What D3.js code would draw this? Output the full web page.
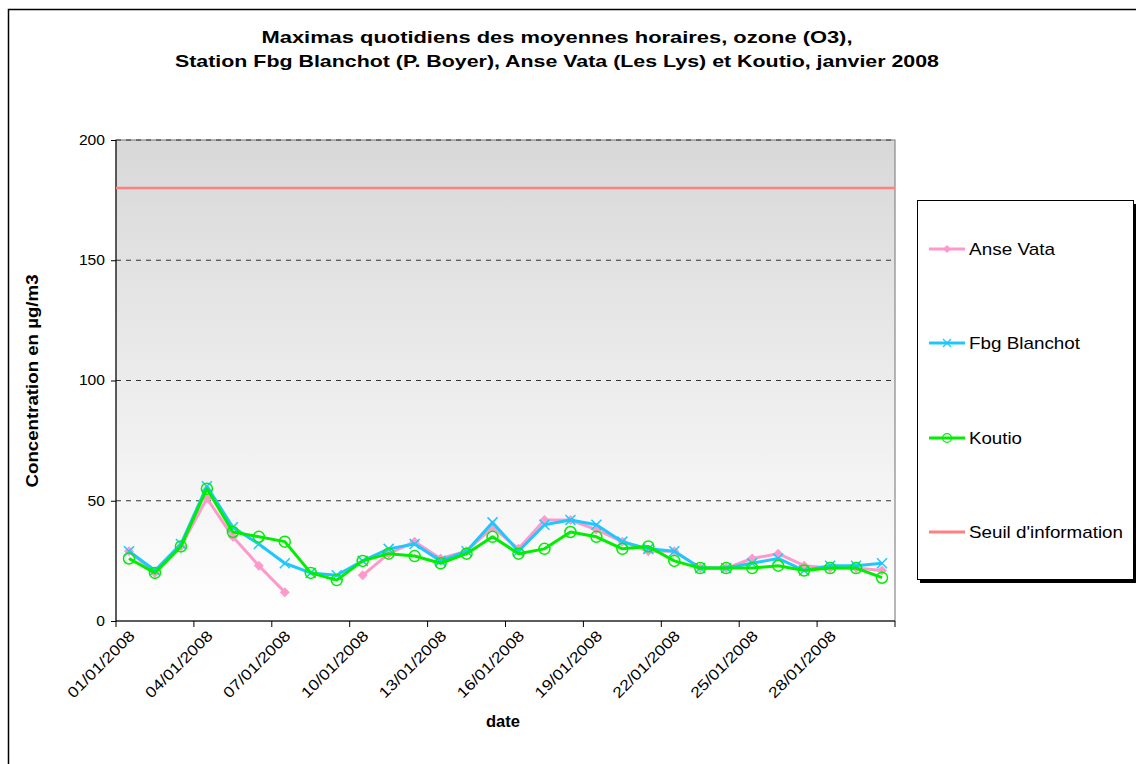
<!DOCTYPE html>
<html><head><meta charset="utf-8">
<script src="https://cdn.jsdelivr.net/npm/d3@7"></script>
<style>body{margin:0;background:#fff;} svg{display:block;font-family:Arial,"Liberation Sans",sans-serif;}</style>
</head><body>
<svg id="c" width="1136" height="764"></svg>
<script>
const dates = ["01/01/2008","02/01/2008","03/01/2008","04/01/2008","05/01/2008","06/01/2008","07/01/2008","08/01/2008","09/01/2008","10/01/2008",
"11/01/2008","12/01/2008","13/01/2008","14/01/2008","15/01/2008","16/01/2008","17/01/2008","18/01/2008","19/01/2008","20/01/2008",
"21/01/2008","22/01/2008","23/01/2008","24/01/2008","25/01/2008","26/01/2008","27/01/2008","28/01/2008","29/01/2008","30/01/2008"];
const anseVata = [29,20,31,51,35,23,12,null,null,19,28,33,26,29,39,30,42,42,38,33,29,29,22,22,26,28,23,22,22,21];
const fbgBlanchot = [29,21,32,56,39,32,24,20,19,25,30,32,25,29,41,29,40,42,40,33,30,29,22,22,24,26,21,23,23,24];
const koutio = [26,20,31,55,37,35,33,20,17,25,28,27,24,28,35,28,30,37,35,30,31,25,22,22,22,23,21,22,22,18];
const seuil = 180;
const yTicks = [0,50,100,150,200];
const tickLabels = dates.filter((d,i)=>i%3===0);
const seriesNames = ["Anse Vata","Fbg Blanchot","Koutio","Seuil d'information"];
const colors = {"Anse Vata":"#FF99CC","Fbg Blanchot":"#1EC8FF","Koutio":"#00EE00","Seuil d'information":"#FF8080"};

const svg = d3.select("#c");
const L=116,R=895,T=140,B=621;

// outer frame
svg.append("rect").attr("x",8.5).attr("y",9.5).attr("width",1140).attr("height",770).attr("fill","#fff").attr("stroke","#000").attr("stroke-width",1.5);

// gradient
const defs = svg.append("defs");
const g = defs.append("linearGradient").attr("id","bg").attr("x1",0).attr("y1",0).attr("x2",0).attr("y2",1);
g.append("stop").attr("offset","0%").attr("stop-color","#d8d8d8");
g.append("stop").attr("offset","100%").attr("stop-color","#ffffff");

const x = d3.scaleBand().domain(dates).range([L,R]);
const cx = d => x(d)+x.bandwidth()/2;
const y = d3.scaleLinear().domain([0,200]).range([B,T]);

svg.append("rect").attr("x",L).attr("y",T).attr("width",R-L).attr("height",B-T).attr("fill","url(#bg)").attr("stroke","#888").attr("stroke-width",1.2);

// grid
svg.append("g").selectAll("line").data(yTicks.filter(v=>v>0)).join("line")
  .attr("x1",L).attr("x2",R).attr("y1",d=>y(d)).attr("y2",d=>y(d))
  .attr("stroke","#333").attr("stroke-dasharray","5,5").attr("stroke-width",1);

// axes
const ya = svg.append("g").attr("transform",`translate(${L},0)`).call(d3.axisLeft(y).tickValues(yTicks).tickSize(5).tickPadding(6));
ya.select(".domain").attr("stroke","#000").attr("d",`M0,${B}V${T}`);
ya.selectAll("text").attr("font-size",14).attr("font-family","Arial,'Liberation Sans',sans-serif").attr("fill","#000")
  .attr("textLength",function(){return this.textContent.length*8.7;}).attr("lengthAdjust","spacingAndGlyphs");

const xa = svg.append("g").attr("transform",`translate(0,${B})`);
xa.append("line").attr("x1",L).attr("x2",R).attr("stroke","#000");
const tickIdx = d3.range(0,dates.length+1,3);
xa.selectAll("line.t").data(tickIdx).join("line").attr("class","t")
  .attr("x1",i=>i<dates.length?x(dates[i]):R).attr("x2",i=>i<dates.length?x(dates[i]):R).attr("y1",0).attr("y2",6).attr("stroke","#000");
xa.selectAll("text").data(tickLabels).join("text")
  .attr("transform",d=>`translate(${cx(d)+3},${12}) rotate(-45)`)
  .attr("text-anchor","end").attr("dy","0.35em").attr("font-size",15).attr("textLength",88).attr("lengthAdjust","spacingAndGlyphs").text(d=>d);

// seuil line
svg.append("line").attr("x1",L).attr("x2",R).attr("y1",y(seuil)).attr("y2",y(seuil)).attr("stroke",colors["Seuil d'information"]).attr("stroke-width",2.5);

const line = d3.line().defined(d=>d.v!==null).x(d=>cx(d.d)).y(d=>y(d.v));
function series(vals,name,marker){
  const data = dates.map((d,i)=>({d,v:vals[i]}));
  const col = colors[name];
  svg.append("path").datum(data).attr("d",line).attr("fill","none").attr("stroke",col).attr("stroke-width",3).attr("stroke-linejoin","round");
  const pts = svg.append("g").selectAll("g").data(data.filter(d=>d.v!==null)).join("g").attr("transform",d=>`translate(${cx(d.d)},${y(d.v)})`);
  marker(pts,col);
}
const diamond = (s,c)=>s.append("path").attr("d","M0,-5L5,0L0,5L-5,0Z").attr("fill",c);
const cross = (s,c)=>s.append("path").attr("d","M-5,-5L5,5M-5,5L5,-5").attr("stroke",c).attr("stroke-width",1.5);
const circ = (s,c)=>s.append("circle").attr("r",5.5).attr("fill","none").attr("stroke",c).attr("stroke-width",1.5);
series(anseVata,"Anse Vata",diamond);
series(fbgBlanchot,"Fbg Blanchot",cross);
series(koutio,"Koutio",circ);

// titles
function fitText(xp,yp,size,len,txt,bold){
  return svg.append("text").attr("x",xp).attr("y",yp).attr("text-anchor","middle").attr("font-size",size)
    .attr("font-weight",bold?"bold":"normal").attr("textLength",len).attr("lengthAdjust","spacingAndGlyphs").text(txt);
}
fitText(557,43,17,591,"Maximas quotidiens des moyennes horaires, ozone (O3),",true);
fitText(557,67,17,764,"Station Fbg Blanchot (P. Boyer), Anse Vata (Les Lys) et Koutio,  janvier 2008",true);
fitText(503,727,16,34,"date",true);
svg.append("text").attr("transform","translate(38,381) rotate(-90)").attr("text-anchor","middle").attr("font-size",16).attr("font-weight","bold")
  .attr("textLength",213).attr("lengthAdjust","spacingAndGlyphs").text("Concentration en µg/m3");

// legend
svg.append("rect").attr("x",920).attr("y",204).attr("width",216).attr("height",379).attr("fill","#000");
svg.append("rect").attr("x",917.5).attr("y",200.5).attr("width",216).attr("height",379).attr("fill","#fff").attr("stroke","#000").attr("stroke-width",1);
const ly = [249,343,438,532];
const lw = [86,111,53,154];
const markers = [diamond,cross,circ,null];
seriesNames.forEach((n,i)=>{
  const gg = svg.append("g");
  gg.append("line").attr("x1",929).attr("x2",965).attr("y1",ly[i]).attr("y2",ly[i]).attr("stroke",colors[n]).attr("stroke-width",3);
  if(markers[i]){
    const m = gg.append("g").attr("transform",`translate(947,${ly[i]}) scale(0.8)`);
    markers[i](m,colors[n]);
  }
  gg.append("text").attr("x",969).attr("y",ly[i]).attr("dy","0.35em").attr("font-size",17)
    .attr("textLength",lw[i]).attr("lengthAdjust","spacingAndGlyphs").text(n);
});
</script>
</body></html>
